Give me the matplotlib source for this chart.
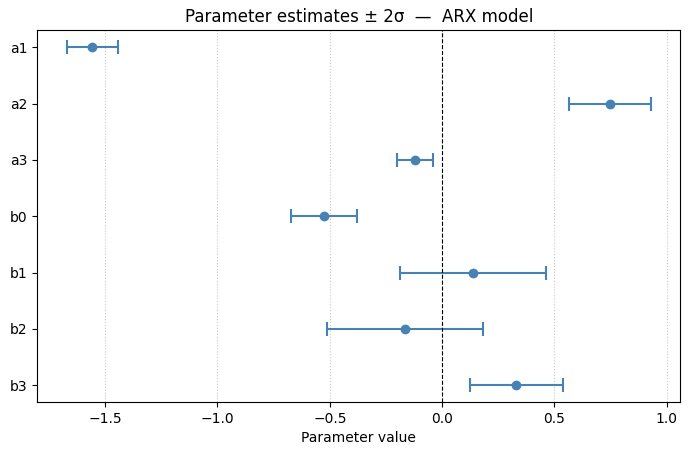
import numpy as np
import matplotlib
matplotlib.use("Agg")
import matplotlib.pyplot as plt

names = ["a1", "a2", "a3", "b0", "b1", "b2", "b3"]
estimates = [-1.557, 0.748, -0.120, -0.526, 0.138, -0.165, 0.330]
two_sigma = [0.114, 0.182, 0.080, 0.147, 0.325, 0.347, 0.207]

fig, ax = plt.subplots(figsize=(6.89, 4.55), dpi=100)
fig.subplots_adjust(left=0.0544, right=0.9874, top=0.933, bottom=0.1165)
ypos = np.arange(len(names))
ax.errorbar(estimates, ypos, xerr=two_sigma, fmt="o", color="steelblue",
            ecolor="steelblue", elinewidth=1.5, capsize=5, capthick=1.5,
            markersize=6)
ax.axvline(0, color="black", linestyle="--", linewidth=0.8)
ax.set_yticks(ypos)
ax.set_yticklabels(names)
ax.invert_yaxis()
ax.grid(axis="x", linestyle=":", alpha=0.7)
ax.set_axisbelow(True)
ax.set_xlabel("Parameter value")
ax.set_title("Parameter estimates \u00b1 2\u03c3  \u2014  ARX model")
fig.savefig("out.png", dpi=100)
